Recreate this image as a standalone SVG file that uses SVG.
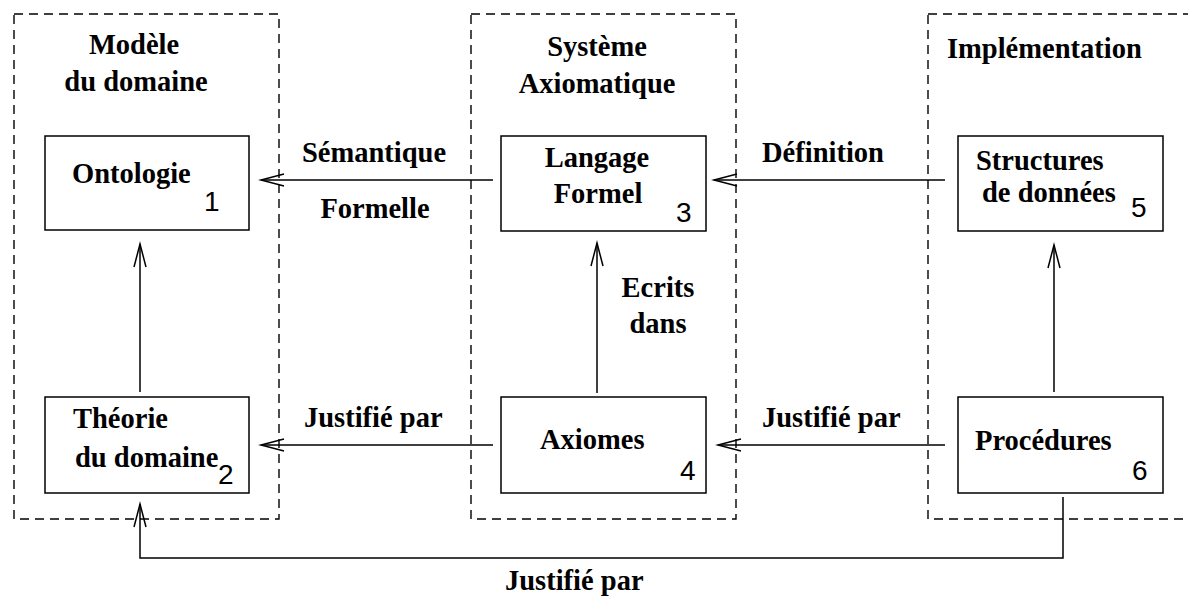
<svg xmlns="http://www.w3.org/2000/svg" width="1188" height="599" viewBox="0 0 1188 599">
<style>
.grp{fill:none;stroke:#000;stroke-width:1.4;stroke-dasharray:9 6}
.box{fill:#fff;stroke:#000;stroke-width:1.5}
.t{font-family:"Liberation Serif","Times New Roman",serif;font-weight:bold;font-size:28.5px;fill:#000}
.n{font-family:"Liberation Sans",Arial,sans-serif;font-size:28px;fill:#000}
.c{text-anchor:middle}
.e{fill:none;stroke:#000;stroke-width:1.5}
</style>
<defs>
<marker id="ah" markerUnits="userSpaceOnUse" viewBox="-25 -8 27 16" refX="0" refY="0" markerWidth="27" markerHeight="16" orient="auto" overflow="visible">
<path d="M-23,-6 L0,0 L-23,6" fill="none" stroke="#000" stroke-width="1.5"/>
</marker>
</defs>
<rect width="1188" height="599" fill="#fff"/>
<g id="groups">
<g id="g-modele">
<rect class="grp" x="14" y="14" width="265" height="505"/>
<text class="t c" x="134" y="54">Modèle</text>
<text class="t c" x="136" y="91">du domaine</text>
</g>
<g id="g-systeme">
<rect class="grp" x="471" y="14" width="265" height="505"/>
<text class="t c" x="597" y="56">Système</text>
<text class="t c" x="597" y="93">Axiomatique</text>
</g>
<g id="g-impl">
<rect class="grp" x="928" y="14" width="265" height="505"/>
<text class="t" x="947" y="58">Implémentation</text>
</g>
</g>
<g id="connectors">
<line class="e" x1="493" y1="180" x2="261" y2="180" marker-end="url(#ah)"/>
<line class="e" x1="945" y1="180" x2="714" y2="180" marker-end="url(#ah)"/>
<line class="e" x1="493" y1="445" x2="261" y2="445" marker-end="url(#ah)"/>
<line class="e" x1="945" y1="445" x2="718" y2="445" marker-end="url(#ah)"/>
<line class="e" x1="140" y1="392" x2="140" y2="244" marker-end="url(#ah)"/>
<line class="e" x1="597" y1="393" x2="597" y2="243" marker-end="url(#ah)"/>
<line class="e" x1="1054" y1="392" x2="1054" y2="245" marker-end="url(#ah)"/>
<polyline class="e" points="1063,497 1063,558 140,558 140,504" marker-end="url(#ah)"/>
<text class="t c" x="374" y="162">Sémantique</text>
<text class="t c" x="375" y="218">Formelle</text>
<text class="t c" x="823" y="162">Définition</text>
<text class="t" x="304" y="427">Justifié par</text>
<text class="t" x="762" y="427">Justifié par</text>
<text class="t c" x="658" y="297">Ecrits</text>
<text class="t c" x="658" y="333">dans</text>
<text class="t" x="505" y="590">Justifié par</text>
</g>
<g id="n1">
<rect class="box" x="45" y="136" width="204" height="94"/>
<text class="t" x="72" y="183">Ontologie</text>
<text class="n" x="204" y="211">1</text>
</g>
<g id="n2">
<rect class="box" x="45" y="397" width="204" height="96"/>
<text class="t" x="73" y="428">Théorie</text>
<text class="t" x="75" y="467">du domaine</text>
<text class="n" x="218" y="484">2</text>
</g>
<g id="n3">
<rect class="box" x="501" y="136" width="205" height="95"/>
<text class="t c" x="597" y="167">Langage</text>
<text class="t c" x="598" y="203">Formel</text>
<text class="n" x="676" y="222">3</text>
</g>
<g id="n4">
<rect class="box" x="501" y="397" width="205" height="96"/>
<text class="t" x="540" y="449">Axiomes</text>
<text class="n" x="680" y="480">4</text>
</g>
<g id="n5">
<rect class="box" x="958" y="136" width="205" height="95"/>
<text class="t" x="976" y="170">Structures</text>
<text class="t" x="982" y="202">de données</text>
<text class="n" x="1131" y="217">5</text>
</g>
<g id="n6">
<rect class="box" x="958" y="397" width="205" height="96"/>
<text class="t" x="975" y="450">Procédures</text>
<text class="n" x="1132" y="480">6</text>
</g>
</svg>
